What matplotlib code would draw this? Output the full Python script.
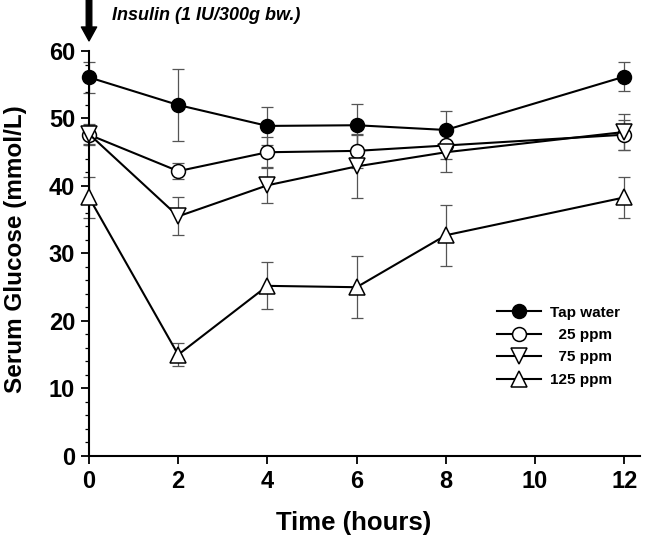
import matplotlib
matplotlib.use("Agg")
import matplotlib.pyplot as plt
from matplotlib.ticker import MultipleLocator

plt.rcParams['font.family'] = ['Liberation Sans', 'DejaVu Sans']

time = [0, 2, 4, 6, 8, 12]
labels = ["Tap water", "  25 ppm", "  75 ppm", "125 ppm"]
tap = [56.1, 52.0, 48.9, 49.0, 48.3, 56.2]
tap_err = [2.3, 5.4, 2.8, 3.2, 2.8, 2.1]
p25 = [47.6, 42.2, 45.0, 45.2, 46.0, 47.6]
p25_err = [1.5, 1.2, 2.2, 2.5, 2.0, 2.2]
p75 = [47.7, 35.5, 40.1, 42.9, 45.0, 48.0]
p75_err = [1.5, 2.8, 2.6, 4.7, 3.0, 2.6]
p125 = [38.3, 15.0, 25.2, 25.0, 32.7, 38.3]
p125_err = [3.0, 1.7, 3.5, 4.6, 4.5, 3.1]

fig = plt.figure(figsize=(6.45, 5.37), dpi=100)
ax = fig.add_axes([0.138, 0.151, 0.854, 0.754])

series = [
    (tap, tap_err, 'o', 'black', labels[0]),
    (p25, p25_err, 'o', 'white', labels[1]),
    (p75, p75_err, 'v', 'white', labels[2]),
    (p125, p125_err, '^', 'white', labels[3]),
]
for vals, errs, mk, fc, lab in series:
    ax.errorbar(time, vals, yerr=errs, fmt='none', ecolor='#555555',
                elinewidth=0.9, capsize=4, capthick=0.9, zorder=2, clip_on=False)
    ax.plot(time, vals, marker=mk, color='black', markerfacecolor=fc,
            markeredgecolor='black', markersize=10 if mk == 'o' else 11,
            markeredgewidth=1.1, linewidth=1.5, label=lab, zorder=3, clip_on=False)

ax.set_xlim(0, 12.35)
ax.set_ylim(0, 60)
ax.set_xticks([0, 2, 4, 6, 8, 10, 12])
ax.set_yticks([0, 10, 20, 30, 40, 50, 60])
ax.yaxis.set_minor_locator(MultipleLocator(2))
for s in ['top', 'right']:
    ax.spines[s].set_visible(False)
for s in ['left', 'bottom']:
    ax.spines[s].set_linewidth(1.5)
ax.tick_params(axis='both', which='major', direction='out', length=6, width=1.3,
               labelsize=17, pad=4)
ax.tick_params(axis='y', which='minor', direction='out', length=3, width=0.9)
for lbl in ax.get_xticklabels() + ax.get_yticklabels():
    lbl.set_fontweight('bold')

ax.set_xlabel("Time (hours)", fontsize=18.5, fontweight='bold')
ax.set_ylabel("Serum Glucose (mmol/L)", fontsize=17.5, fontweight='bold')
ax.xaxis.set_label_coords(0.481, -0.135)
ax.yaxis.set_label_coords(-0.113, 0.51)

ax.annotate('', xy=(0, 61.5), xytext=(0, 67.6), xycoords='data', annotation_clip=False,
            arrowprops=dict(arrowstyle='simple,head_width=1.1,head_length=1.0,tail_width=0.4',
                            color='black', shrinkA=0, shrinkB=0))
ax.text(0.52, 65.3, "Insulin (1 IU/300g bw.)", fontsize=13, fontweight='bold',
        fontstyle='italic', ha='left', va='center', clip_on=False)

leg = ax.legend(loc='upper left', bbox_to_anchor=(0.715, 0.405), frameon=False,
                handlelength=2.9, handletextpad=0.6, labelspacing=0.55,
                prop={'weight': 'bold', 'size': 11})

fig.savefig("out.png", dpi=100)
